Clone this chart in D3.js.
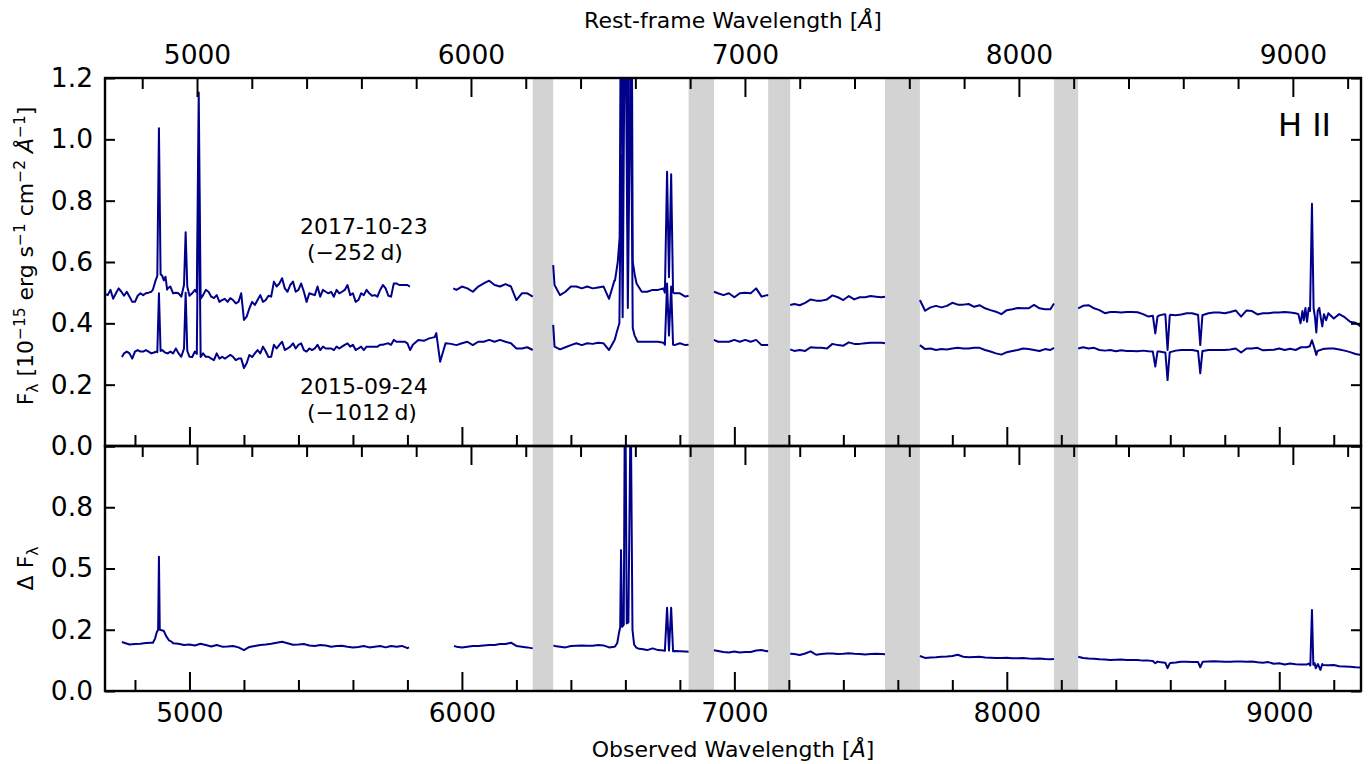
<!DOCTYPE html>
<html>
<head>
<meta charset="utf-8">
<title>H II spectra</title>
<style>
body { margin: 0; background: #fff; overflow: hidden; }
svg { font-family: "DejaVu Sans", sans-serif; }
.tick line { stroke: #000; stroke-width: 2px; }
.tick text { font-size: 26.5px; fill: #000; font-family: "DejaVu Sans", sans-serif; }
.lbl { font-size: 22px; fill: #000; white-space: pre; }
.spec { fill: none; stroke: #00008b; stroke-width: 2px; stroke-linejoin: round; }
</style>
</head>
<body>
<script src="https://cdnjs.cloudflare.com/ajax/libs/d3/7.8.5/d3.min.js"></script>
<script>
// redshift used for the rest-frame axis
var z = 0.00554;

// sampling grid of the spectra (observed wavelength, 20 A steps)
var grid = d3.range(4700, 9301, 20);
// extra in-between samples for the noisy blue end
var gridMid = d3.range(4710, 5800, 20);

// 2017-10-23 spectrum, one row per 200 A (null = no data)
var flux2017 = [
  0.492, 0.480, 0.514, 0.490, 0.487, 0.470, 0.498, 0.498, 0.503, 0.536, // 4700
  0.558, 0.514, 0.498, 0.498, 0.525, 0.490, 0.509, 0.476, 0.509, 0.487, // 4900
  0.492, 0.476, 0.470, 0.476, 0.470, 0.411, 0.449, 0.460, 0.492, 0.476, // 5100
  0.487, 0.520, 0.547, 0.503, 0.536, 0.509, 0.503, 0.498, 0.492, 0.487, // 5300
  0.503, 0.503, 0.509, 0.503, 0.525, 0.498, 0.476, 0.492, 0.498, 0.492, // 5500
  0.509, 0.514, 0.487, 0.530, 0.525, 0.525, null, null, null, null,     // 5700
  null, null, null, null, 0.509, 0.520, 0.514, 0.503, 0.520, 0.530,     // 5900
  0.539, 0.525, 0.520, 0.528, 0.520, 0.476, 0.498, 0.498, 0.487, null,  // 6100
  null, null, 0.525, 0.492, 0.503, 0.520, 0.520, 0.514, 0.520, 0.514,   // 6300
  0.517, 0.520, 0.480, 0.540, 0.700, 0.700, 0.700, 0.530, 0.503, 0.503, // 6500
  0.509, 0.509, 0.514, 0.550, 0.498, 0.498, 0.487, null, null, null,    // 6700
  null, null, 0.498, 0.492, 0.498, 0.485, 0.498, 0.500, 0.498, 0.514,   // 6900
  0.487, 0.492, null, null, null, null, 0.463, 0.459, 0.467, 0.478,     // 7100
  0.474, 0.474, 0.478, 0.491, 0.485, 0.476, 0.489, 0.478, 0.485, 0.485, // 7300
  0.489, 0.487, 0.485, null, null, null, null, null, null, null,        // 7500
  0.441, 0.452, 0.457, 0.452, 0.457, 0.467, 0.461, 0.461, 0.463, 0.454, // 7700
  0.459, 0.449, 0.443, 0.438, 0.430, 0.443, 0.446, 0.450, 0.449, 0.449, // 7900
  0.460, 0.449, 0.446, 0.446, null, null, null, null, null, 0.457,      // 8100
  0.459, 0.449, 0.443, 0.433, 0.437, 0.437, 0.435, 0.437, 0.437, 0.436, // 8300
  0.430, 0.422, 0.400, 0.426, 0.430, 0.428, 0.426, 0.429, 0.433, 0.433, // 8500
  0.428, 0.427, 0.433, 0.435, 0.435, 0.433, 0.437, 0.442, 0.422, 0.442, // 8700
  0.440, 0.429, 0.433, 0.433, 0.435, 0.435, 0.437, 0.435, 0.433, 0.416, // 8900
  0.422, 0.600, 0.378, 0.433, 0.433, 0.416, 0.430, 0.420, 0.405, 0.402, // 9100
  0.389                                                                 // 9300
];
var mid2017 = [
  0.509, 0.498, 0.503, 0.503, 0.470, 0.490, 0.492, 0.500, 0.514, 1.000, // 4710
  0.550, 0.520, 0.500, 0.487, 0.600, 0.498, 0.900, 0.492, 0.503, 0.482, // 4910
  0.470, 0.480, 0.482, 0.465, 0.498, 0.422, 0.470, 0.476, 0.470, 0.490, // 5110
  0.536, 0.530, 0.514, 0.525, 0.503, 0.530, 0.470, 0.495, 0.520, 0.509, // 5310
  0.498, 0.487, 0.498, 0.509, 0.492, 0.470, 0.498, 0.509, 0.490, 0.487, // 5510
  0.525, 0.490, 0.530, 0.525, 0.525                                     // 5710
];

// 2015-09-24 spectrum
var flux2015 = [
  null, null, null, 0.302, 0.302, 0.308, 0.308, 0.313, 0.302, 0.308,    // 4700
  0.313, 0.302, 0.302, 0.302, 0.318, 0.291, 0.308, 0.291, 0.291, 0.285, // 4900
  0.302, 0.291, 0.291, 0.291, 0.285, 0.254, 0.297, 0.302, 0.302, 0.308, // 5100
  0.291, 0.318, 0.340, 0.318, 0.335, 0.330, 0.313, 0.318, 0.318, 0.313, // 5300
  0.318, 0.318, 0.324, 0.324, 0.335, 0.330, 0.318, 0.313, 0.324, 0.324, // 5500
  0.330, 0.333, 0.330, 0.340, 0.340, 0.335, 0.330, 0.346, 0.343, 0.351, // 5700
  0.355, 0.275, 0.335, 0.333, 0.329, 0.335, 0.340, 0.329, 0.340, 0.340, // 5900
  0.346, 0.340, 0.346, 0.340, 0.335, 0.318, 0.318, 0.322, 0.313, null,  // 6100
  null, null, 0.324, 0.315, 0.322, 0.329, 0.335, 0.329, 0.335, 0.333,   // 6300
  0.337, 0.335, 0.313, 0.345, 0.400, 0.400, 0.400, 0.350, 0.340, 0.340, // 6500
  0.340, 0.340, 0.337, 0.350, 0.329, 0.335, 0.329, null, null, null,    // 6700
  null, null, 0.340, 0.340, 0.340, 0.346, 0.340, 0.346, 0.340, 0.346,   // 6900
  0.329, 0.329, null, null, null, null, 0.310, 0.313, 0.310, 0.322,     // 7100
  0.320, 0.320, 0.318, 0.333, 0.329, 0.327, 0.338, 0.333, 0.333, 0.335, // 7300
  0.337, 0.337, 0.337, null, null, null, null, null, null, null,        // 7500
  0.316, 0.318, 0.313, 0.316, 0.315, 0.318, 0.320, 0.318, 0.318, 0.320, // 7700
  0.320, 0.313, 0.308, 0.302, 0.298, 0.306, 0.310, 0.313, 0.318, 0.316, // 7900
  0.313, 0.310, 0.316, 0.313, null, null, null, null, null, 0.322,      // 8100
  0.318, 0.320, 0.313, 0.311, 0.313, 0.309, 0.312, 0.310, 0.310, 0.309, // 8300
  0.311, 0.309, 0.290, 0.308, 0.305, 0.306, 0.311, 0.313, 0.313, 0.313, // 8500
  0.310, 0.310, 0.313, 0.313, 0.313, 0.313, 0.315, 0.318, 0.305, 0.318, // 8700
  0.318, 0.320, 0.312, 0.313, 0.314, 0.318, 0.313, 0.317, 0.313, 0.322, // 8900
  0.322, 0.330, 0.310, 0.316, 0.318, 0.318, 0.315, 0.311, 0.306, 0.300, // 9100
  0.297                                                                 // 9300
];
var mid2015 = [
  null, null, null, 0.308, 0.285, 0.313, 0.308, 0.308, 0.305, 0.400,    // 4710
  0.305, 0.308, 0.318, 0.291, 0.400, 0.290, 0.500, 0.302, 0.291, 0.280, // 4910
  0.285, 0.285, 0.297, 0.280, 0.285, 0.270, 0.290, 0.313, 0.324, 0.290, // 5110
  0.330, 0.330, 0.313, 0.324, 0.318, 0.335, 0.308, 0.313, 0.330, 0.324, // 5310
  0.318, 0.313, 0.318, 0.330, 0.324, 0.313, 0.324, 0.324, 0.324, 0.324, // 5510
  0.330, 0.335, 0.346, 0.340, 0.340                                     // 5710
];

// difference spectrum (lower panel)
var fluxDiff = [
  null, null, null, 0.197, 0.190, 0.192, 0.193, 0.196, 0.197, 0.220,    // 4700
  0.250, 0.210, 0.195, 0.193, 0.188, 0.190, 0.186, 0.193, 0.188, 0.182, // 4900
  0.188, 0.181, 0.182, 0.184, 0.178, 0.167, 0.180, 0.184, 0.188, 0.190, // 5100
  0.193, 0.197, 0.201, 0.195, 0.189, 0.190, 0.192, 0.186, 0.184, 0.188, // 5300
  0.186, 0.181, 0.184, 0.185, 0.181, 0.178, 0.180, 0.184, 0.178, 0.181, // 5500
  0.184, 0.178, 0.184, 0.181, 0.184, 0.175, null, null, null, null,     // 5700
  null, null, null, null, 0.181, 0.178, 0.181, 0.184, 0.184, 0.186,     // 5900
  0.188, 0.188, 0.192, 0.192, 0.197, 0.184, 0.181, 0.178, 0.174, null,  // 6100
  null, null, 0.184, 0.181, 0.178, 0.184, 0.185, 0.186, 0.185, 0.185,   // 6300
  0.188, 0.186, 0.178, 0.181, 0.260, 0.300, 0.300, 0.177, 0.171, 0.167, // 6500
  0.174, 0.167, 0.165, 0.200, 0.163, 0.162, 0.161, null, null, null,    // 6700
  null, null, 0.163, 0.159, 0.157, 0.161, 0.157, 0.159, 0.159, 0.165,   // 6900
  0.167, 0.162, null, null, null, null, 0.151, 0.147, 0.153, 0.162,     // 7100
  0.148, 0.151, 0.153, 0.153, 0.151, 0.152, 0.154, 0.152, 0.151, 0.149, // 7300
  0.151, 0.152, 0.151, null, null, null, null, null, null, null,        // 7500
  0.135, 0.137, 0.138, 0.140, 0.141, 0.143, 0.148, 0.140, 0.138, 0.139, // 7700
  0.140, 0.137, 0.136, 0.135, 0.135, 0.136, 0.134, 0.134, 0.135, 0.133, // 7900
  0.132, 0.133, 0.131, 0.130, null, null, null, null, null, 0.135,      // 8100
  0.133, 0.132, 0.130, 0.129, 0.127, 0.128, 0.129, 0.127, 0.127, 0.127, // 8300
  0.124, 0.124, 0.118, 0.118, 0.115, 0.114, 0.116, 0.119, 0.119, 0.118, // 8500
  0.118, 0.119, 0.120, 0.121, 0.120, 0.119, 0.119, 0.120, 0.120, 0.119, // 8700
  0.120, 0.117, 0.115, 0.118, 0.111, 0.113, 0.108, 0.112, 0.109, 0.108, // 8900
  0.108, 0.300, 0.100, 0.106, 0.105, 0.106, 0.101, 0.100, 0.099, 0.097, // 9100
  0.096                                                                 // 9300
];

// finer samples: emission / absorption lines and chip edges
// (grid points falling inside a block are replaced by it)
var lines2017 = [
  [[4692, 0.495]],
  [[4866, 0.51], [4874, 0.535], [4882, 0.555], [4888, 1.036], [4894, 0.56], [4900, 0.555], [4906, 0.54], [4912, 0.552], [4918, 0.51]],
  [[4980, 0.525], [4986, 0.697], [4992, 0.52]],
  [[5027, 0.50], [5034, 1.153], [5041, 0.48]],
  [[5809, 0.52]], [[5968, 0.514]], [[6335, 0.59]],
  [[6562, 0.54], [6572, 0.60], [6579, 0.68], [6584, 1.6], [6590, 0.70], [6599, 3.0], [6609, 0.72], [6619.5, 2.4], [6627, 0.60], [6634, 0.56], [6641, 0.53]],
  [[6745, 0.50], [6753, 0.894], [6760, 0.55], [6768, 0.886], [6775, 0.50]],
  [[6832, 0.49]], [[6925, 0.503]], [[7124, 0.49]], [[7205, 0.46]],
  [[7553, 0.487]], [[7681, 0.476]], [[8173, 0.465]], [[8262, 0.449]],
  [[8536, 0.425], [8545, 0.367], [8553, 0.422]],
  [[8582, 0.428], [8590, 0.313], [8598, 0.425]],
  [[8702, 0.428], [8710, 0.329], [8718, 0.427]],
  [[9070, 0.43], [9078, 0.40], [9085, 0.44], [9090, 0.41], [9096, 0.45], [9102, 0.405], [9108, 0.45], [9113, 0.44], [9120, 0.79], [9126, 0.45], [9131, 0.42], [9136, 0.37], [9141, 0.44], [9147, 0.45], [9152, 0.42], [9158, 0.39], [9164, 0.43], [9172, 0.41], [9180, 0.433]]
];

var lines2015 = [
  [[4752, 0.29]],
  [[4882, 0.306], [4888, 0.498], [4894, 0.31]],
  [[4980, 0.318], [4986, 0.50], [4992, 0.31]],
  [[5027, 0.30], [5034, 0.95], [5041, 0.29]],
  [[5810, 0.313]], [[5906, 0.368]], [[6335, 0.395]],
  [[6562, 0.35], [6568, 0.37], [6578, 0.40], [6584, 0.95], [6590, 0.42], [6599, 1.6], [6609, 0.45], [6619.5, 1.3], [6627, 0.385], [6634, 0.36], [6645, 0.34]],
  [[6745, 0.33], [6753, 0.53], [6760, 0.36], [6768, 0.52], [6775, 0.33]],
  [[6832, 0.33]], [[6925, 0.346]], [[7124, 0.33]], [[7205, 0.315]],
  [[7553, 0.335]], [[7681, 0.329]], [[8173, 0.32]], [[8262, 0.318]],
  [[8536, 0.308], [8545, 0.259], [8553, 0.308]],
  [[8582, 0.305], [8590, 0.215], [8598, 0.306]],
  [[8702, 0.309], [8710, 0.237], [8718, 0.31]],
  [[9112, 0.325], [9120, 0.345], [9127, 0.325], [9136, 0.297]]
];

var linesDiff = [
  [[4752, 0.20]],
  [[4866, 0.197], [4874, 0.215], [4880, 0.24], [4885, 0.25], [4888, 0.548], [4891, 0.25], [4898, 0.248], [4906, 0.245], [4914, 0.225], [4924, 0.208], [4936, 0.2]],
  [[5806, 0.178]], [[5971, 0.184]], [[6336, 0.186]],
  [[6562, 0.182], [6570, 0.195], [6577, 0.24], [6581, 0.26], [6584, 0.575], [6588, 0.262], [6594, 0.27], [6599, 1.4], [6605, 0.276], [6611, 0.28], [6619.5, 1.2], [6626, 0.25], [6632, 0.19], [6640, 0.177], [6650, 0.172]],
  [[6745, 0.164], [6753, 0.34], [6760, 0.165], [6768, 0.34], [6775, 0.162]],
  [[6832, 0.16]], [[6925, 0.166]], [[7124, 0.163]], [[7205, 0.152]],
  [[7553, 0.150]], [[7681, 0.143]], [[8173, 0.131]], [[8262, 0.14]],
  [[8536, 0.122], [8545, 0.113], [8553, 0.12]],
  [[8582, 0.115], [8590, 0.093], [8598, 0.113]],
  [[8702, 0.118], [8710, 0.097], [8718, 0.117]],
  [[9100, 0.108], [9108, 0.112], [9114, 0.104], [9120, 0.331], [9125, 0.107], [9130, 0.113], [9134, 0.093], [9142, 0.11], [9151, 0.086], [9158, 0.11]]
];

// telluric regions (observed wavelength)
var bands = [[6260, 6335], [6832, 6925], [7124, 7205], [7553, 7681], [8173, 8262]];

// ticks
var obsMajor = [5000, 6000, 7000, 8000, 9000];
var obsMinor = d3.range(4800, 9201, 200).filter(function(d) { return d % 1000 != 0; });
var restMajor = [5000, 6000, 7000, 8000, 9000];
var restMinor = d3.range(4800, 9201, 200).filter(function(d) { return d % 1000 != 0; });
var yTopTicks = [0, 0.2, 0.4, 0.6, 0.8, 1.0, 1.2];
var yTopLabels = ["0.0", "0.2", "0.4", "0.6", "0.8", "1.0", "1.2"];
var yBotTicks = [0, 0.25, 0.5, 0.75, 1.0];
var yBotLabels = ["0.0", "0.2", "0.5", "0.8", ""];

var width = 1368, height = 764,
    left = 105, right = 1361, top1 = 78, mid = 446, bot = 691;

var x = d3.scaleLinear().domain([4690, 9300]).range([left, right]);
var xRest = d3.scaleLinear().domain([4690 / (1 + z), 9300 / (1 + z)]).range([left, right]);
var yTop = d3.scaleLinear().domain([0, 1.2]).range([mid, top1]);
var yBot = d3.scaleLinear().domain([0, 1.0]).range([bot, mid]);

var svg = d3.select("body").append("svg")
    .attr("width", width)
    .attr("height", height);

svg.append("rect").attr("width", width).attr("height", height).attr("fill", "#fff");

var defs = svg.append("defs");
defs.append("clipPath").attr("id", "clipTop").append("rect")
    .attr("x", left).attr("y", top1).attr("width", right - left).attr("height", mid - top1);
defs.append("clipPath").attr("id", "clipBot").append("rect")
    .attr("x", left).attr("y", mid).attr("width", right - left).attr("height", bot - mid);

function merge(vals, blocks, midVals) {
  var pts = grid.map(function(w, i) { return [w, vals[i]]; });
  if (midVals) pts = pts.concat(gridMid.map(function(w, i) { return [w, midVals[i]]; }));
  blocks.forEach(function(b) {
    var lo = b[0][0], hi = b[b.length - 1][0];
    pts = pts.filter(function(p) { return p[0] < lo || p[0] > hi; }).concat(b);
  });
  return pts.sort(function(a, b) { return a[0] - b[0]; });
}

// grey bands in both panels
[[top1, mid], [mid, bot]].forEach(function(p) {
  svg.append("g").selectAll("rect")
    .data(bands)
    .enter().append("rect")
    .attr("x", function(d) { return x(d[0]); })
    .attr("width", function(d) { return x(d[1]) - x(d[0]); })
    .attr("y", p[0])
    .attr("height", p[1] - p[0])
    .attr("fill", "#d3d3d3");
});

var lineTop = d3.line()
    .defined(function(d) { return d[1] !== null; })
    .x(function(d) { return x(d[0]); })
    .y(function(d) { return yTop(d[1]); });
var lineBot = d3.line()
    .defined(function(d) { return d[1] !== null; })
    .x(function(d) { return x(d[0]); })
    .y(function(d) { return yBot(d[1]); });

var gTop = svg.append("g").attr("clip-path", "url(#clipTop)");
gTop.append("path").attr("class", "spec").attr("d", lineTop(merge(flux2015, lines2015, mid2015)));
gTop.append("path").attr("class", "spec").attr("d", lineTop(merge(flux2017, lines2017, mid2017)));

svg.append("g").attr("clip-path", "url(#clipBot)")
  .append("path").attr("class", "spec").attr("d", lineBot(merge(fluxDiff, linesDiff)));

// axes, all ticks pointing inwards
function addAxis(axis, tx, ty) {
  var g = svg.append("g")
      .attr("transform", "translate(" + tx + "," + ty + ")")
      .call(axis);
  g.select(".domain").remove();
  g.attr("font-size", null).attr("font-family", null);
  return g;
}

// upper panel
addAxis(d3.axisTop(xRest).tickValues(restMajor).tickSize(-19).tickPadding(14).tickFormat(d3.format("d")), 0, top1);
addAxis(d3.axisTop(xRest).tickValues(restMinor).tickSize(-11).tickFormat(""), 0, top1);
addAxis(d3.axisBottom(x).tickValues(obsMajor).tickSize(-19).tickFormat(""), 0, mid);
addAxis(d3.axisBottom(x).tickValues(obsMinor).tickSize(-11).tickFormat(""), 0, mid);
addAxis(d3.axisLeft(yTop).tickValues(yTopTicks).tickSize(-10).tickPadding(12)
  .tickFormat(function(d, i) { return yTopLabels[i]; }), left, 0);
addAxis(d3.axisRight(yTop).tickValues(yTopTicks).tickSize(-10).tickFormat(""), right, 0);

// lower panel
addAxis(d3.axisTop(xRest).tickValues(restMajor).tickSize(-19).tickFormat(""), 0, mid);
addAxis(d3.axisTop(xRest).tickValues(restMinor).tickSize(-11).tickFormat(""), 0, mid);
addAxis(d3.axisBottom(x).tickValues(obsMajor).tickSize(-19).tickPadding(12).tickFormat(d3.format("d")), 0, bot);
addAxis(d3.axisBottom(x).tickValues(obsMinor).tickSize(-11).tickFormat(""), 0, bot);
addAxis(d3.axisLeft(yBot).tickValues(yBotTicks).tickSize(-10).tickPadding(12)
  .tickFormat(function(d, i) { return yBotLabels[i]; }), left, 0);
addAxis(d3.axisRight(yBot).tickValues(yBotTicks).tickSize(-10).tickFormat(""), right, 0);

// frames
[[top1, mid], [mid, bot]].forEach(function(p) {
  svg.append("rect")
    .attr("x", left).attr("y", p[0])
    .attr("width", right - left).attr("height", p[1] - p[0])
    .attr("fill", "none").attr("stroke", "#000").attr("stroke-width", 2.4);
});

// rich text helper: parts are [text, "sup"|"sub"|"", italic]
function addParts(text, parts) {
  var shift = 0;
  parts.forEach(function(p) {
    var kind = p[1] || "",
        target = kind === "sup" ? -8 : (kind === "sub" ? 5 : 0);
    var ts = text.append("tspan").attr("dy", target - shift).text(p[0]);
    shift = target;
    if (kind) ts.attr("font-size", "70%");
    if (p[2]) ts.attr("font-style", "italic");
  });
}

var t;
t = svg.append("text").attr("class", "lbl").attr("x", (left + right) / 2).attr("y", 28).attr("text-anchor", "middle");
addParts(t, [["Rest-frame Wavelength ["], ["Å", "", true], ["]"]]);

t = svg.append("text").attr("class", "lbl").attr("x", (left + right) / 2).attr("y", 757).attr("text-anchor", "middle");
addParts(t, [["Observed Wavelength ["], ["Å", "", true], ["]"]]);

t = svg.append("text").attr("class", "lbl").attr("text-anchor", "middle")
    .attr("transform", "translate(33," + ((top1 + mid) / 2 - 6) + ") rotate(-90)");
addParts(t, [["F"], ["λ", "sub"], [" [10"], ["−15", "sup"], [" erg s"], ["−1", "sup"], [" cm"], ["−2", "sup"], [" "], ["Å", "", true], ["−1", "sup"], ["]"]]);

t = svg.append("text").attr("class", "lbl").attr("text-anchor", "middle")
    .attr("transform", "translate(33," + ((mid + bot) / 2) + ") rotate(-90)");
addParts(t, [["Δ F"], ["λ", "sub"]]);

// annotations
svg.append("text").attr("class", "lbl").attr("x", 300).attr("y", 234).text("2017-10-23");
svg.append("text").attr("class", "lbl").attr("x", 307).attr("y", 260).text("(−252\u2009d)");
svg.append("text").attr("class", "lbl").attr("x", 300).attr("y", 394).text("2015-09-24");
svg.append("text").attr("class", "lbl").attr("x", 307).attr("y", 420).text("(−1012\u2009d)");
svg.append("text").attr("class", "lbl").attr("x", 1331).attr("y", 136)
    .attr("text-anchor", "end").style("font-size", "32px").text("H II");
</script>
</body>
</html>
